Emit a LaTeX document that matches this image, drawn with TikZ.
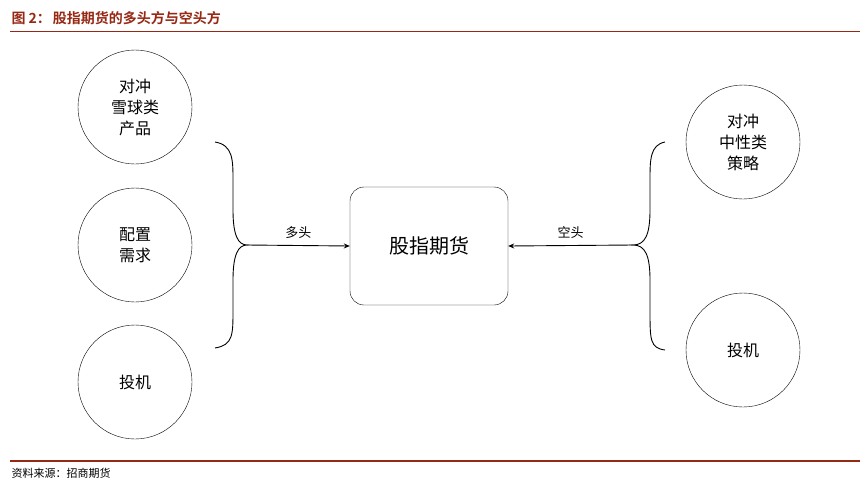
\documentclass[tikz,border=0pt]{standalone}
\usepackage{fontspec}
\setmainfont{Noto Sans CJK SC}
\newfontfamily\cjkb{Noto Sans CJK SC Bold}
\usetikzlibrary{arrows.meta}
\definecolor{tred}{RGB}{150,40,20}
\begin{document}
\begin{tikzpicture}[x=1pt,y=-1pt,
  circ/.style={draw,circle,minimum size=114pt,inner sep=0pt,align=center,font=\fontsize{16}{21}\selectfont},
  lbl/.style={font=\fontsize{13}{15}\selectfont},
  br/.style={draw,line width=0.9pt},
  arr/.style={draw,line width=0.9pt,-{Stealth[length=6pt,width=5pt]}}]
\useasboundingbox (0,0) rectangle (860,488);
\fill[white] (0,0) rectangle (860,488);
\node[anchor=west,text=tred,font=\cjkb\fontsize{14}{16}\selectfont] (title) at (8,18) {图 2：\hspace{2pt}股指期货的多头方与空头方};
\draw[tred,line width=0.6pt] (10,31) -- (860,31);
\draw[tred,line width=1.2pt] (10,461) -- (860,461);
\node[anchor=west,font=\fontsize{11}{13}\selectfont] (src) at (8,473) {资料来源：招商期货};
\node[circ] (a) at (135,107) {对冲\\雪球类\\产品};
\node[circ] (b) at (135,245) {配置\\需求};
\node[circ] (c) at (135,382) {投机};
\node[circ] (d) at (743,142) {对冲\\中性类\\策略};
\node[circ] (e) at (743,350) {投机};
\node[draw,rounded corners=14pt,minimum width=158pt,minimum height=118pt,font=\fontsize{20}{24}\selectfont] (m) at (429,246) {股指期货};
\coordinate (lt) at (247,245);
\coordinate (rt) at (633,245);
\draw[br] (215,142) .. controls (233,145) and (233,160) .. (233,180) -- (233,210) .. controls (233,235) and (238,245) .. (lt)
  .. controls (238,245) and (233,255) .. (233,280) -- (233,310) .. controls (233,335) and (233,345) .. (215,348);
\draw[br] (665,142) .. controls (650,145) and (650,160) .. (650,180) -- (650,210) .. controls (650,235) and (645,245) .. (rt)
  .. controls (645,245) and (650,255) .. (650,280) -- (650,310) .. controls (650,340) and (650,348) .. (665,350);
\draw[arr] (lt) -- (m.west) node[midway,above=3pt,lbl] {多头};
\draw[arr] (rt) -- (m.east) node[midway,above=3pt,lbl] {空头};
\end{tikzpicture}
\end{document}
